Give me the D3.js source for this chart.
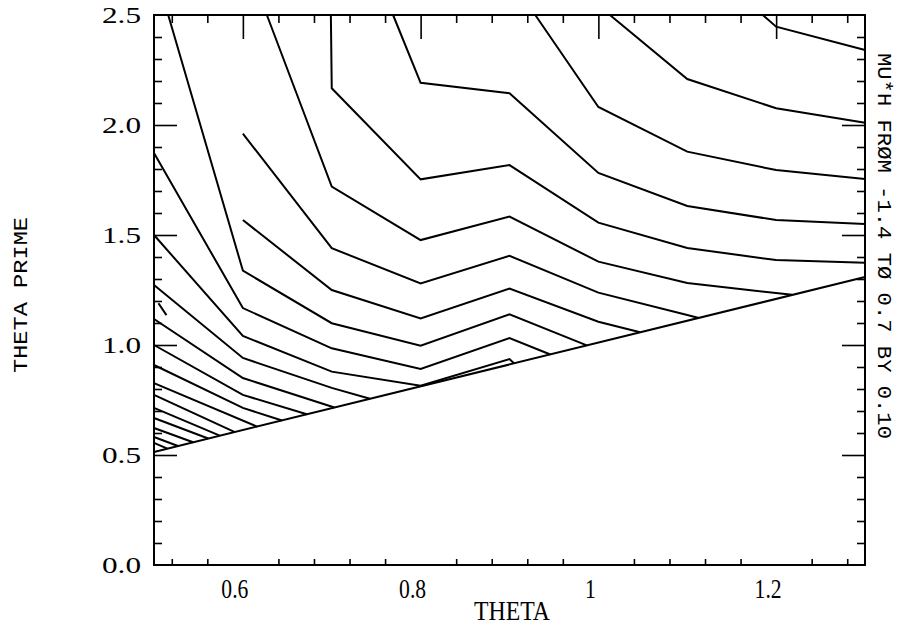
<!DOCTYPE html>
<html>
<head>
<meta charset="utf-8">
<script src="https://cdn.jsdelivr.net/npm/d3@7/dist/d3.min.js"></script>
<style>
  body { margin: 0; background: #fff; }
  svg { display: block; }
  .tick line { stroke: #000; stroke-width: 1.6; }
  .contour { fill: none; stroke: #000; stroke-width: 2; stroke-linejoin: miter; }
</style>
</head>
<body>
<div id="viz"></div>
<script>
/********* data *********/
var thetaTicks = [0.6, 0.8, 1.0, 1.2],
    thetaLabels = ["0.6", "0.8", "1", "1.2"];
var primeTicks = [0.0, 0.5, 1.0, 1.5, 2.0, 2.5],
    primeLabels = ["0.0", "0.5", "1.0", "1.5", "2.0", "2.5"];

// the theta' = theta boundary, region below it is left blank
var boundary = [[0.5, 0.514], [1.3, 1.309]];

// contour polylines, [theta, theta prime], grid every 0.1 in theta
var contourLines = [
  [[1.185, 2.5], [1.2, 2.447], [1.3, 2.341]],
  [[1.013, 2.5], [1.1, 2.209], [1.2, 2.076], [1.3, 2.010]],
  [[0.929, 2.5], [1.0, 2.082], [1.1, 1.879], [1.2, 1.795], [1.3, 1.755]],
  [[0.769, 2.5], [0.8, 2.192], [0.9, 2.144], [1.0, 1.782], [1.1, 1.632], [1.2, 1.568], [1.3, 1.550]],
  [[0.699, 2.5], [0.7, 2.167], [0.8, 1.753], [0.9, 1.818], [1.0, 1.556], [1.1, 1.441], [1.2, 1.386], [1.3, 1.374]],
  [[0.627, 2.5], [0.7, 1.720], [0.8, 1.477], [0.9, 1.584], [1.0, 1.379], [1.1, 1.282], [1.218, 1.228]],
  [[0.6, 1.961], [0.7, 1.440], [0.8, 1.280], [0.9, 1.405], [1.0, 1.238], [1.1, 1.136], [1.113, 1.123]],
  [[0.6, 1.568], [0.7, 1.250], [0.8, 1.121], [0.9, 1.257], [1.0, 1.106], [1.047, 1.058]],
  [[0.516, 2.5], [0.6, 1.338], [0.7, 1.099], [0.8, 0.997], [0.9, 1.139], [0.987, 0.998]],
  [[0.5, 1.873], [0.6, 1.168], [0.7, 0.985], [0.8, 0.891], [0.9, 1.032], [0.946, 0.957]],
  [[0.5, 1.5], [0.6, 1.041], [0.7, 0.879], [0.8, 0.815], [0.9, 0.936], [0.905, 0.917]],
  [[0.5, 1.273], [0.6, 0.941], [0.7, 0.805], [0.743, 0.756]],
  [[0.5, 1.118], [0.6, 0.850], [0.703, 0.716]],
  [[0.5, 1.0], [0.6, 0.773], [0.672, 0.685]],
  [[0.5, 0.909], [0.6, 0.714], [0.644, 0.657]],
  [[0.5, 0.827], [0.616, 0.629]],
  [[0.5, 0.773], [0.591, 0.604]],
  [[0.5, 0.714], [0.574, 0.588]],
  [[0.5, 0.668], [0.561, 0.575]],
  [[0.5, 0.623], [0.544, 0.558]],
  [[0.5, 0.582], [0.527, 0.541]],
  [[0.5, 0.555], [0.515, 0.529]],
  [[0.505, 1.190], [0.514, 1.136]]   // short stray piece at the left edge
];

var xTitle = "THETA",
    yTitle = "THETA PRIME",
    sideNote = "MU*H FR\u00d8M -1.4 T\u00d8 0.7 BY 0.10";

/********* layout *********/
var W = 906, H = 630,
    m = { left: 154, right: 865, top: 15, bottom: 565 },
    serif = "'Liberation Serif', 'Times New Roman', serif",
    mono = "'Liberation Mono', 'DejaVu Sans Mono', monospace";

var svg = d3.select("#viz").append("svg")
    .attr("width", W)
    .attr("height", H);

var x = d3.scaleLinear().domain([0.5, 1.3]).range([m.left, m.right]);
var y = d3.scaleLinear().domain([0, 2.5]).range([m.bottom, m.top]);

// minor ticks every 0.04 on theta, every 0.1 on theta prime
var xMinor = d3.range(0.52, 1.299, 0.04).filter(function(v) {
  return thetaTicks.every(function(t) { return Math.abs(t - v) > 1e-6; });
});
var yMinor = d3.range(0.1, 2.45, 0.1).filter(function(v) {
  return primeTicks.every(function(t) { return Math.abs(t - v) > 1e-6; });
});
var yMajorInner = [0.5, 1.0, 1.5, 2.0];

function addAxis(axis, tx, ty) {
  var g = svg.append("g")
      .attr("transform", "translate(" + tx + "," + ty + ")")
      .call(axis);
  g.select(".domain").remove();
  g.selectAll("text").remove();
  return g;
}

// top: long majors + short minors, pointing down
addAxis(d3.axisTop(x).tickValues(thetaTicks).tickSize(-24), 0, m.top);
addAxis(d3.axisTop(x).tickValues(xMinor).tickSize(-8), 0, m.top);
// bottom: only the short minors
addAxis(d3.axisBottom(x).tickValues(xMinor).tickSize(-6), 0, m.bottom);
// left and right
addAxis(d3.axisLeft(y).tickValues(yMajorInner).tickSize(-23), m.left, 0);
addAxis(d3.axisLeft(y).tickValues(yMinor).tickSize(-8), m.left, 0);
addAxis(d3.axisRight(y).tickValues(yMajorInner).tickSize(-23), m.right, 0);
addAxis(d3.axisRight(y).tickValues(yMinor).tickSize(-8), m.right, 0);

// frame
svg.append("rect")
    .attr("x", m.left)
    .attr("y", m.top)
    .attr("width", m.right - m.left)
    .attr("height", m.bottom - m.top)
    .attr("fill", "none")
    .attr("stroke", "#000")
    .attr("stroke-width", 2);

var line = d3.line()
    .x(function(d) { return x(d[0]); })
    .y(function(d) { return y(d[1]); });

svg.append("path")
    .datum(boundary)
    .attr("class", "contour")
    .attr("d", line);

svg.selectAll(".cl")
    .data(contourLines)
    .enter()
    .append("path")
    .attr("class", "contour cl")
    .attr("d", line);

// tick labels
svg.selectAll(".ylab")
    .data(primeTicks)
    .enter()
    .append("text")
    .attr("class", "ylab")
    .attr("x", 102)
    .attr("y", function(d) { return y(d) + 8; })
    .attr("textLength", 39)
    .attr("lengthAdjust", "spacingAndGlyphs")
    .style("font-family", serif)
    .style("font-size", "24px")
    .text(function(d, i) { return primeLabels[i]; });

svg.selectAll(".xlab")
    .data(thetaTicks)
    .enter()
    .append("text")
    .attr("class", "xlab")
    .attr("x", function(d) { return x(d) - 8; })
    .attr("y", 598)
    .attr("text-anchor", "middle")
    .style("font-family", serif)
    .style("font-size", "27px")
    .attr("transform", function(d) { return "translate(" + (x(d) - 8) + ",598) scale(0.8,1) translate(" + (-(x(d) - 8)) + ",-598)"; })
    .text(function(d, i) { return thetaLabels[i]; });

// axis titles
svg.append("text")
    .attr("x", 512)
    .attr("y", 620)
    .attr("text-anchor", "middle")
    .attr("textLength", 76)
    .attr("lengthAdjust", "spacingAndGlyphs")
    .style("font-family", serif)
    .style("font-size", "27px")
    .text(xTitle);

svg.append("text")
    .attr("transform", "translate(27,295) rotate(-90)")
    .attr("text-anchor", "middle")
    .attr("textLength", 156)
    .attr("lengthAdjust", "spacingAndGlyphs")
    .style("font-family", mono)
    .style("font-size", "20px")
    .text(yTitle);

svg.append("text")
    .attr("transform", "translate(878,246) rotate(90)")
    .attr("text-anchor", "middle")
    .attr("textLength", 386)
    .attr("lengthAdjust", "spacingAndGlyphs")
    .style("font-family", mono)
    .style("font-size", "21px")
    .text(sideNote);
</script>
</body>
</html>
